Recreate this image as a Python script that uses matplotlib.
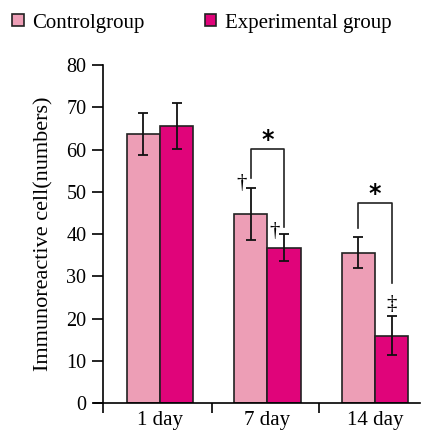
import matplotlib
matplotlib.use('Agg')
import matplotlib.pyplot as plt
import numpy as np

plt.rcParams['font.family'] = ['Liberation Serif', 'DejaVu Serif']

days = ['1 day', '7 day', '14 day']
control = [63.7, 44.8, 35.6]
control_err = [5.0, 6.2, 3.7]
experimental = [65.5, 36.7, 15.9]
experimental_err = [5.4, 3.2, 4.6]
control_marks = ['', '†', '']
experimental_marks = ['', '†', '‡']
# significance brackets: group index, left end, right end, top
brackets = [(1, 53.3, 41.7, 60.1), (2, 41.4, 28.4, 47.3)]

c_col = '#ED9EB6'
e_col = '#E0047A'
w = 0.31

fig = plt.figure(figsize=(4.27, 4.37), dpi=100)
ax = fig.add_axes([94 / 427, 1 - 403 / 437, (420 - 94) / 427, (403 - 65) / 437])

x = np.arange(len(days))
ek = dict(ecolor='#111111', elinewidth=1.3, capsize=3.8, capthick=1.3)
ax.bar(x - w / 2, control, w, color=c_col, edgecolor='#222222', linewidth=1.2,
       yerr=control_err, error_kw=ek, label='Controlgroup')
ax.bar(x + w / 2, experimental, w, color=e_col, edgecolor='#222222', linewidth=1.2,
       yerr=experimental_err, error_kw=ek, label='Experimental group')

for i in range(len(days)):
    if control_marks[i]:
        ax.text(x[i] - w / 2 - 0.085, control[i] + control_err[i] + 1.0, control_marks[i],
                ha='center', va='center', fontsize=15)
    if experimental_marks[i]:
        if experimental_marks[i] == '†':
            ax.text(x[i] + w / 2 - 0.085, experimental[i] + experimental_err[i] + 0.6,
                    experimental_marks[i], ha='center', va='center', fontsize=15)
        else:
            ax.text(x[i] + w / 2, experimental[i] + experimental_err[i] + 2.9,
                    experimental_marks[i], ha='center', va='center', fontsize=15)

for g, yl, yr, top in brackets:
    ax.plot([x[g] - w / 2, x[g] - w / 2, x[g] + w / 2, x[g] + w / 2], [yl, top, top, yr],
            color='#222222', lw=1.2)
    ax.text(x[g], top + 2.1, '*', ha='center', va='center', fontsize=17, fontweight='bold',
            family='DejaVu Sans')

ax.set_xlim(-0.615, 2.42)
ax.set_ylim(0, 80)
ax.spines['top'].set_visible(False)
ax.spines['right'].set_visible(False)
ax.spines['left'].set_position(('data', -0.53))
ax.spines['left'].set_bounds(0, 80)
ax.set_yticks(range(0, 81, 10))
ax.tick_params(axis='y', labelsize=14.5, length=8, width=1.2, direction='out', pad=4)
ax.set_xticks([-0.53, 0.48, 1.48])
ax.set_xticklabels([])
ax.set_xticks(x, minor=True)
ax.set_xticklabels(days, minor=True)
ax.tick_params(axis='x', which='major', length=7, width=1.2, direction='out')
ax.tick_params(axis='x', which='minor', length=0, labelsize=15, pad=6)
for s in ['left', 'bottom']:
    ax.spines[s].set_linewidth(1.2)
ax.set_ylabel('Immunoreactive cell(numbers)', fontsize=16, labelpad=9)

fig.legend(loc='upper left', bbox_to_anchor=(-0.015, 1.012), ncol=2, frameon=False, fontsize=15,
           handlelength=0.55, handleheight=0.55, handletextpad=0.4, columnspacing=2.9)

fig.savefig('out.png', dpi=100)
